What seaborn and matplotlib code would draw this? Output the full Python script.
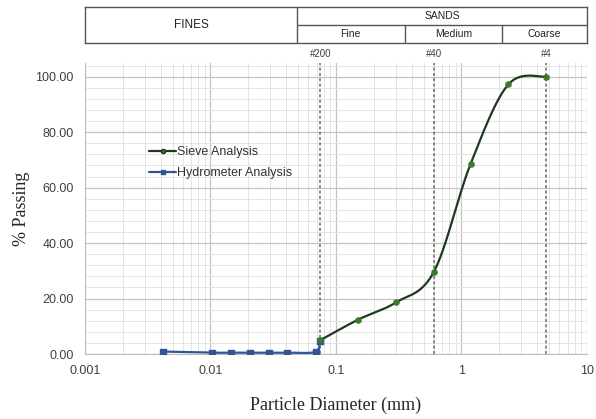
import numpy as np
import pandas as pd
import matplotlib
matplotlib.use("Agg")
import matplotlib.pyplot as plt
from matplotlib.lines import Line2D
import seaborn as sns

# sieve analysis
sieve_size = [0.075, 0.15, 0.30, 0.60, 1.18, 2.36, 4.75]
sieve_pass = [5.0, 12.4, 18.6, 29.5, 68.5, 97.2, 100.0]

# hydrometer analysis
hydro_size = [0.0042, 0.0103, 0.0147, 0.0205, 0.029, 0.041, 0.069, 0.074]
hydro_pass = [0.9, 0.5, 0.5, 0.5, 0.5, 0.5, 0.8, 4.8]

# sieve lines
sieve_lines = [0.075, 0.60, 4.75]
sieve_names = ["#200", "#40", "#4"]

green_line = "#1e3a1e"
green_mark = "#3a7a2a"
blue = "#2f5597"


def smooth(xs, ys, n=30):
    # excel-like smoothed line (catmull-rom in log x)
    lx = np.log10(xs)
    pts = np.column_stack([lx, ys])
    pts = np.vstack([pts[0], pts, pts[-1]])
    out = []
    for i in range(1, len(pts) - 2):
        p0, p1, p2, p3 = pts[i - 1], pts[i], pts[i + 1], pts[i + 2]
        c1 = p1 + (p2 - p0) / 6
        c2 = p2 - (p3 - p1) / 6
        t = np.linspace(0, 1, n)[:, None]
        b = (1 - t) ** 3 * p1 + 3 * (1 - t) ** 2 * t * c1 + 3 * (1 - t) * t ** 2 * c2 + t ** 3 * p2
        out.append(b)
    out = np.vstack(out)
    return pd.DataFrame({"size": 10 ** out[:, 0], "pass": out[:, 1]})


sns.set_style("white")
fig = plt.figure(figsize=(5.96, 4.19), dpi=100)
ax = fig.add_axes([0.1426, 0.155, 0.8423, 0.695])

ax.set_xscale("log")
ax.set_xlim(0.001, 10)
ax.set_ylim(0, 105)
ax.set_yticks(np.arange(0, 101, 20))
ax.set_yticks(np.arange(0, 105, 4), minor=True)
ax.set_yticklabels([f"{v:.2f}" for v in np.arange(0, 101, 20)])
ax.set_xticks([0.001, 0.01, 0.1, 1, 10])
ax.set_xticklabels(["0.001", "0.01", "0.1", "1", "10"])
ax.grid(True, which="major", color="#c4c4c4", lw=0.9)
ax.grid(True, which="minor", color="#e4e4e4", lw=0.7)
ax.set_axisbelow(True)
for s in ["top", "right"]:
    ax.spines[s].set_visible(False)
for s in ["left", "bottom"]:
    ax.spines[s].set_color("#bdbdbd")
ax.tick_params(axis="y", which="both", length=0, labelsize=9, colors="#404040", pad=8)
ax.tick_params(axis="x", which="both", length=0, labelsize=9, colors="#404040", pad=8)
for lab in ax.get_xticklabels() + ax.get_yticklabels():
    lab.set_family("Liberation Sans")

for xv, nm in zip(sieve_lines, sieve_names):
    ax.axvline(xv, color="#6a6a6a", ls=(0, (2, 1.5)), lw=1.1, zorder=2)
    ax.text(xv, 106.5, nm, ha="center", va="bottom", fontsize=7, color="#404040",
            family="Liberation Sans", clip_on=False)

hs = smooth(hydro_size, hydro_pass)
sns.lineplot(data=hs, x="size", y="pass", sort=False, color=blue, lw=1.6, ax=ax, zorder=3)
ax.scatter(hydro_size, hydro_pass, s=14, marker="s", color=blue, zorder=4)

ss = smooth(sieve_size, sieve_pass)
sns.lineplot(data=ss, x="size", y="pass", sort=False, color=green_line, lw=1.6, ax=ax, zorder=5)
ax.scatter(sieve_size, sieve_pass, s=14, color=green_mark, zorder=6)

ax.set_xlabel("Particle Diameter (mm)", family="Liberation Serif", fontsize=13, labelpad=14)
ax.set_ylabel("% Passing", family="Liberation Serif", fontsize=13, labelpad=4)

handles = [Line2D([], [], color=green_line, marker="o", ms=3, mfc=green_mark, lw=1.6),
           Line2D([], [], color=blue, marker="s", ms=3, lw=1.6)]
leg = ax.legend(handles, ["Sieve Analysis", "Hydrometer Analysis"], loc="upper left",
                bbox_to_anchor=(0.105, 0.753), frameon=False, handlelength=2.2,
                handletextpad=0.05, labelspacing=0.75, prop={"family": "Liberation Sans", "size": 9})
for t in leg.get_texts():
    t.set_color("#333333")

# header table
hx = fig.add_axes([0.1426, 1 - 43 / 419, 0.8423, 36 / 419])
hx.set_xlim(0, 1)
hx.set_ylim(0, 1)
hx.set_xticks([])
hx.set_yticks([])
for s in hx.spines.values():
    s.set_color("#555555")
    s.set_linewidth(1.0)
b1, b2, b3 = 0.422, 0.637, 0.831
hx.plot([b1, b1], [0, 1], color="#555555", lw=1.0)
hx.plot([b1, 1], [0.5, 0.5], color="#555555", lw=1.0)
hx.plot([b2, b2], [0, 0.5], color="#555555", lw=1.0)
hx.plot([b3, b3], [0, 0.5], color="#555555", lw=1.0)
hfont = dict(family="Liberation Sans", color="#222222", ha="center", va="center")
hx.text(b1 / 2, 0.5, "FINES", fontsize=8.5, **hfont)
hx.text((b1 + 1) / 2, 0.75, "SANDS", fontsize=7.5, **hfont)
hx.text((b1 + b2) / 2, 0.25, "Fine", fontsize=7.5, **hfont)
hx.text((b2 + b3) / 2, 0.25, "Medium", fontsize=7.5, **hfont)
hx.text((b3 + 1) / 2, 0.25, "Coarse", fontsize=7.5, **hfont)

fig.savefig("out.png", dpi=100)
